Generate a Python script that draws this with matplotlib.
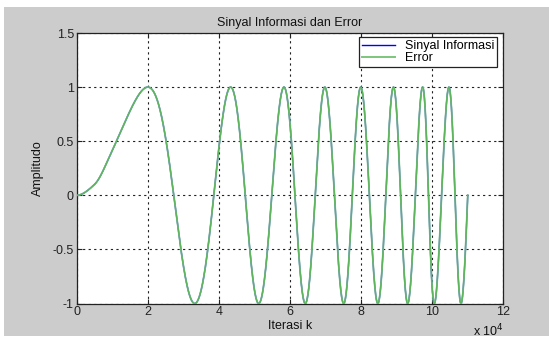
import numpy as np
import matplotlib
matplotlib.use("Agg")
import matplotlib.pyplot as plt
from matplotlib.patches import Rectangle
from matplotlib.lines import Line2D

# ---- data (k in units of 1e4) ----
# rising start of the signal: (k, amplitude)
start_k = [0.0, 0.5, 1.0, 1.5]
start_amp = [0.0, 0.10, 0.415, 0.78]
# positions of successive peaks / troughs (first is a peak at +1)
extrema_k = [2.0, 3.32, 4.33, 5.12, 5.83, 6.43, 6.98, 7.51, 7.99, 8.47,
             8.91, 9.31, 9.73, 10.06, 10.47, 10.81]
end_k = 11.0          # last sample, back at zero crossing
end_amp = 0.0

title = "Sinyal Informasi dan Error"
xlabel = "Iterasi k"
ylabel = "Amplitudo"
series_names = ["Sinyal Informasi", "Error"]
xticks = [0, 2, 4, 6, 8, 10, 12]
yticks = [-1, -0.5, 0, 0.5, 1, 1.5]


def pchip(x, y, xn):
    """Monotone piecewise-cubic Hermite interpolation through the knots."""
    x = np.asarray(x, float)
    y = np.asarray(y, float)
    h = np.diff(x)
    d = np.diff(y) / h
    m = np.zeros_like(y)
    for i in range(1, len(y) - 1):
        if d[i - 1] * d[i] > 0:
            w1 = 2 * h[i] + h[i - 1]
            w2 = h[i] + 2 * h[i - 1]
            m[i] = (w1 + w2) / (w1 / d[i - 1] + w2 / d[i])
    m[0] = 0.0
    m[-1] = d[-1]
    idx = np.clip(np.searchsorted(x, xn) - 1, 0, len(h) - 1)
    t = (xn - x[idx]) / h[idx]
    h00 = 2 * t ** 3 - 3 * t ** 2 + 1
    h10 = t ** 3 - 2 * t ** 2 + t
    h01 = -2 * t ** 3 + 3 * t ** 2
    h11 = t ** 3 - t ** 2
    return (h00 * y[idx] + h10 * h[idx] * m[idx] + h01 * y[idx + 1]
            + h11 * h[idx] * m[idx + 1])


# ---- signal through the read knots (phase interpolated smoothly) ----
knot_k = list(start_k) + list(extrema_k) + [end_k]
knot_phase = [np.arcsin(a) for a in start_amp] + \
             [np.pi / 2 + i * np.pi for i in range(len(extrema_k))] + \
             [len(extrema_k) * np.pi + np.arcsin(end_amp)]
k = np.linspace(0, end_k, 8000)
phase = pchip(knot_k, knot_phase, k)
sig = np.sin(phase)
err = sig.copy()
kk = k * 1e4

# ---- figure ----
W, H = 549, 338
fig = plt.figure(figsize=(W / 100, H / 100), dpi=100, facecolor="white")
bg = Rectangle((4 / W, 1 - 336 / H), 1 - 4 / W, (336 - 7) / H,
               transform=fig.transFigure, facecolor="#cccccc",
               edgecolor="none", zorder=-10)
fig.add_artist(bg)

ax = fig.add_axes([76.7 / W, 1 - 303.5 / H, (503.3 - 76.7) / W, (303.5 - 33) / H])
ax.set_zorder(5)
ax.set_facecolor("white")
FONT = "Liberation Sans"
fs = 9

GREEN = "#7cc67c"
ax.plot(kk, sig, color="#0000ff", lw=1.0, zorder=3)
ax.plot(kk, err, color=GREEN, lw=1.3, zorder=4)
ax.plot(kk, err, color="#1a8c1a", lw=0.4, zorder=5, alpha=0.55)

ax.set_xlim(0, 120000)
ax.set_ylim(-1, 1.5)
ax.set_xticks([t * 1e4 for t in xticks])
ax.set_xticklabels([str(t) for t in xticks], fontfamily=FONT, fontsize=fs)
ax.set_yticks(yticks)
ax.set_yticklabels([("%g" % t) for t in yticks], fontfamily=FONT, fontsize=fs)
ax.tick_params(direction="in", length=3.5, width=0.8, top=True, right=True,
               colors="#222222", pad=2)
ax.grid(True, color="#222222", linestyle=(0, (2, 3)), linewidth=0.8)
for s in ax.spines.values():
    s.set_color("#222222")
    s.set_linewidth(0.9)

ax.set_title(title, fontfamily=FONT, fontsize=fs, pad=5, color="#111111")
ax.set_xlabel(xlabel, fontfamily=FONT, fontsize=fs, labelpad=1, color="#111111")
ax.set_ylabel(ylabel, fontfamily=FONT, fontsize=fs, labelpad=6, color="#111111")
ax.text(1.0, -0.07, r"x 10$^4$", transform=ax.transAxes, ha="right", va="top",
        fontfamily=FONT, fontsize=fs, color="#111111")

handles = [Line2D([], [], color="#0000ff", lw=1.0),
           Line2D([], [], color=GREEN, lw=1.4)]
leg = ax.legend(handles, series_names, loc="upper right",
                bbox_to_anchor=(1 - 6 / 426.6, 1 - 4 / 270.5),
                prop={"family": FONT, "size": fs}, frameon=True, fancybox=False,
                edgecolor="#222222", framealpha=1, borderpad=0.25,
                labelspacing=0.0, handlelength=2.6, handletextpad=0.8,
                borderaxespad=0)
leg.get_frame().set_linewidth(0.9)

fig.savefig("out.png", dpi=100, facecolor=fig.get_facecolor())
